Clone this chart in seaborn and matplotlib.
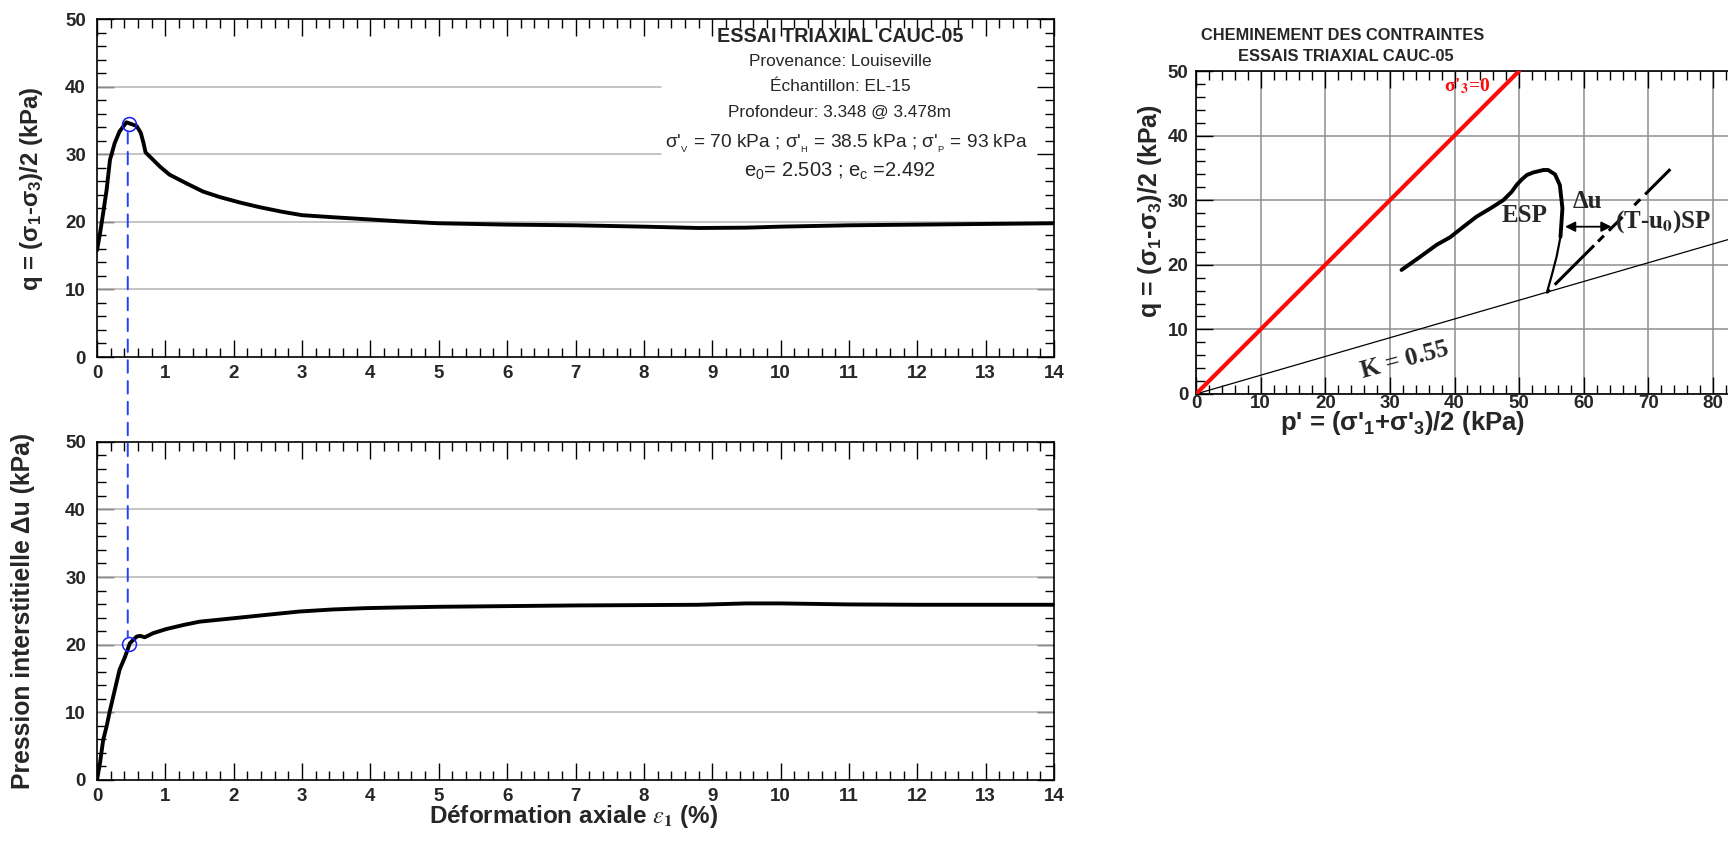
import numpy as np
import pandas as pd
import matplotlib
matplotlib.use("Agg")
import matplotlib.pyplot as plt
import seaborn as sns
from matplotlib.patches import ConnectionPatch
from matplotlib.ticker import MultipleLocator

# ---------------- data ----------------
strain_q = [0, 0.044, 0.09, 0.14, 0.19, 0.26, 0.33, 0.43, 0.5, 0.58, 0.64, 0.68, 0.71,
            0.82, 0.92, 1.06, 1.31, 1.55, 1.79, 2.08, 2.37, 2.71, 3.0, 3.44, 3.93, 4.41,
            5, 6, 7, 8, 8.8, 9.5, 10, 11, 12, 13, 14]
q_dev = [15.8, 18.3, 21.3, 24.7, 29.2, 31.7, 33.4, 34.75, 34.5, 34.2, 33.2, 31.7, 30.3,
         29.2, 28.2, 27.0, 25.7, 24.5, 23.7, 22.9, 22.2, 21.5, 21.0, 20.7, 20.4, 20.1,
         19.8, 19.6, 19.5, 19.3, 19.1, 19.15, 19.3, 19.5, 19.6, 19.7, 19.8]

strain_u = [0, 0.044, 0.09, 0.14, 0.19, 0.26, 0.33, 0.41, 0.48, 0.58, 0.63, 0.70, 0.82,
            1.01, 1.26, 1.5, 1.99, 2.47, 2.96, 3.44, 3.93, 4.41, 5, 6, 7, 8, 8.8, 9.5,
            10, 11, 12, 13, 14]
delta_u = [0, 2.5, 5.9, 7.9, 10.3, 13.3, 16.3, 18.2, 20.2, 21.2, 21.3, 21.1, 21.7,
           22.3, 22.9, 23.4, 23.9, 24.4, 24.9, 25.2, 25.4, 25.5, 25.6, 25.7, 25.8, 25.85,
           25.9, 26.1, 26.1, 25.95, 25.9, 25.9, 25.9]

peak_strain = 0.47
peak_q = 34.45
peak_du = 20.1

# effective stress path (p', q)
p_esp = [54.3, 55.0, 55.8, 56.4, 56.7, 56.7, 56.3, 55.55, 54.5, 53.75, 52.2, 51.2, 50.4,
         49.6, 48.85, 47.55, 45.5, 43.4, 41.4, 39.3, 37.25, 34.7, 31.8]
q_esp = [15.7, 18.2, 21.25, 24.35, 27.45, 30.0, 32.35, 34.0, 34.67, 34.67, 34.3, 33.9,
         33.2, 32.35, 31.3, 30.0, 28.7, 27.45, 25.9, 24.25, 23.1, 21.25, 19.2]
n_sparse = 4  # first samples of the ESP are sparse (drawn thin)

# total stress path minus u0
p_tsp = [54.3, 73.4]
q_tsp = [15.7, 34.8]

# failure line sigma'3 = 0 and K0 line
p_fail = [0, 50]
q_fail = [0, 50]
K0 = 0.55
p_k0 = np.array([0, 90])
q_k0 = p_k0 * (1 - K0) / (1 + K0)

# Δu arrow between ESP and TSP
du_arrow_p = [57.1, 64.3]
du_arrow_q = 25.9

# ---------------- style ----------------
sns.set_theme(style="ticks")
plt.rcParams['font.family'] = ['Liberation Sans', 'DejaVu Sans']
plt.rcParams['mathtext.fontset'] = 'custom'
plt.rcParams['mathtext.rm'] = 'Liberation Sans'
plt.rcParams['mathtext.it'] = 'Liberation Sans:italic'
plt.rcParams['mathtext.bf'] = 'Liberation Sans:bold'
plt.rcParams['lines.scale_dashes'] = False

W, H = 1728, 855
fig = plt.figure(figsize=(W / 100, H / 100), dpi=100)


def fpos(x0, y0, x1, y1):
    return [x0 / W, 1 - y1 / H, (x1 - x0) / W, (y1 - y0) / H]


ax1 = fig.add_axes(fpos(97, 19.3, 1054, 357))
ax2 = fig.add_axes(fpos(97, 441.7, 1054, 780))
ax3 = fig.add_axes(fpos(1196, 71, 1196 + 84 * 6.4625, 394))


def style(ax, xmaj, xmin, ymaj, ymin, top=True, right=True, pad_x=6, pad_y=8, size=13.5):
    ax.xaxis.set_major_locator(MultipleLocator(xmaj))
    ax.xaxis.set_minor_locator(MultipleLocator(xmin))
    ax.yaxis.set_major_locator(MultipleLocator(ymaj))
    ax.yaxis.set_minor_locator(MultipleLocator(ymin))
    ax.tick_params(which='both', direction='in', top=top, right=right,
                   color='black', width=1.0)
    ax.tick_params(which='major', length=12)
    ax.tick_params(which='minor', length=6.5)
    ax.tick_params(axis='x', which='major', pad=pad_x, labelsize=size)
    ax.tick_params(axis='y', which='major', pad=pad_y, labelsize=size)
    for s in ax.spines.values():
        s.set_color('black')
        s.set_linewidth(1.2)
    for lbl in ax.get_xticklabels() + ax.get_yticklabels():
        lbl.set_fontweight('bold')
    ax.set_xlabel('')
    ax.set_ylabel('')
    ax.grid(False)


GRID_L = '#b4b4b4'

# ---- top-left: q vs strain ----
sns.lineplot(x=strain_q, y=q_dev, ax=ax1, color='black', lw=2.8, sort=False, zorder=3)
ax1.set_xlim(0, 14)
ax1.set_ylim(0, 50)
style(ax1, 1, 0.2, 10, 2)
for yv in (10, 20):
    ax1.axhline(yv, color=GRID_L, lw=1.1, zorder=1)
for yv in (30, 40):
    ax1.axhline(yv, xmax=0.589, color=GRID_L, lw=1.1, zorder=1)
ax1.plot([peak_strain], [peak_q], 'o', mfc='none', mec='#1a1aff', ms=10, mew=1.1, zorder=4)

# ---- bottom-left: Δu vs strain ----
sns.lineplot(x=strain_u, y=delta_u, ax=ax2, color='black', lw=2.8, sort=False, zorder=3)
ax2.set_xlim(0, 14)
ax2.set_ylim(0, 50)
style(ax2, 1, 0.2, 10, 2)
for yv in (10, 20, 30, 40):
    ax2.axhline(yv, color=GRID_L, lw=1.1, zorder=1)
ax2.plot([peak_strain], [peak_du], 'o', mfc='none', mec='#1a1aff', ms=10, mew=1.1, zorder=4)

con = ConnectionPatch(xyA=(peak_strain - 0.02, peak_q - 1.0), coordsA=ax1.transData,
                      xyB=(peak_strain - 0.02, peak_du + 1.0), coordsB=ax2.transData,
                      color='#2040ff', lw=1.4, linestyle=(0, (9, 6)), zorder=5)
fig.add_artist(con)

# ---- right: stress path ----
ax3.set_xlim(0, 84)
ax3.set_ylim(0, 50)
style(ax3, 10, 2, 10, 2, top=True, right=False, pad_x=0.5, pad_y=5.5, size=13.5)
ax3.grid(True, which='major', color='#8e8e8e', lw=1.1, zorder=0)
ax3.set_axisbelow(True)
ax3.spines['right'].set_visible(False)

sns.lineplot(x=p_k0, y=q_k0, ax=ax3, color='black', lw=0.9, sort=False, zorder=2)
sns.lineplot(x=p_fail, y=q_fail, ax=ax3, color='#ff0a0a', lw=3.0, sort=False, zorder=3)
sns.lineplot(x=p_esp[:n_sparse], y=q_esp[:n_sparse], ax=ax3, color='black', lw=1.6,
             sort=False, zorder=3)
sns.lineplot(x=p_esp[n_sparse - 1:], y=q_esp[n_sparse - 1:], ax=ax3, color='black', lw=2.8,
             sort=False, zorder=3)
sns.lineplot(x=p_tsp, y=q_tsp, ax=ax3, color='black', lw=2.2, sort=False, zorder=3,
             linestyle=(3, (6, 5, 40, 4, 6, 5, 14, 12)))
ax3.annotate('', xy=(du_arrow_p[1], du_arrow_q), xytext=(du_arrow_p[0], du_arrow_q),
             arrowprops=dict(arrowstyle='<|-|>', color='black', lw=1.3,
                             mutation_scale=15, shrinkA=0, shrinkB=0), zorder=4)

serif = 'Liberation Serif'
ax3.text(50.8, 27.6, 'ESP', family=serif, weight='bold', fontsize=18, ha='center',
         va='center', zorder=5)
ax3.text(60.5, 29.8, 'Δu', family=serif, weight='bold', fontsize=18, ha='center',
         va='center', zorder=5)
ax3.text(64.8, 25.7, r'(T-u$_\mathbf{0}$)SP', family=serif, weight='bold', fontsize=18,
         ha='left', va='baseline', math_fontfamily='stix', zorder=5)
ax3.text(32.3, 5.3, 'K = 0.55', family=serif, weight='bold', fontsize=18, ha='center',
         va='center', rotation=15, rotation_mode='anchor', zorder=5)
ax3.text(38.3, 46.8, r"σ'$_\mathbf{3}$=0", family=serif, weight='bold', fontsize=14,
         ha='left', va='baseline', color='#ff0a0a', math_fontfamily='stix', zorder=5)

# ---------------- texts ----------------
cx = 840 / W
fig.text(cx, 1 - 41.5 / H, 'ESSAI TRIAXIAL CAUC-05', ha='center', va='baseline',
         fontsize=14.2, weight='bold')
fig.text(cx, 1 - 66.5 / H, 'Provenance: Louiseville', ha='center', va='baseline', fontsize=12.4)
fig.text(cx, 1 - 91 / H, 'Échantillon: EL-15', ha='center', va='baseline', fontsize=12.4)
fig.text(cx, 1 - 116.5 / H, 'Profondeur: 3.348 @ 3.478m', ha='center', va='baseline',
         fontsize=12.4)
fig.text(cx + 0.004, 1 - 148 / H,
         r"σ'$_{_\mathrm{V}}$ = 70 kPa ; σ'$_{_\mathrm{H}}$ = 38.5 kPa ; σ'$_{_\mathrm{P}}$ = 93 kPa",
         ha='center', va='baseline', fontsize=13.8)
fig.text(cx, 1 - 176.5 / H, r"e$_\mathrm{0}$= 2.503 ; e$_\mathrm{c}$ =2.492",
         ha='center', va='baseline', fontsize=14.5)

fig.text(32 / W, 1 - 189 / H, r"q = (σ$_\mathbf{1}$-σ$_\mathbf{3}$)/2 (kPa)", rotation=90,
         ha='center', va='center', fontsize=17.2, weight='bold')
fig.text(23 / W, 1 - 611 / H, 'Pression interstitielle Δu (kPa)', rotation=90,
         ha='center', va='center', fontsize=17.8, weight='bold')
fig.text(574 / W, 1 - 823 / H, r"Déformation axiale $\varepsilon_\mathbf{1}$ (%)", ha='center',
         va='baseline', fontsize=17.5, weight='bold', math_fontfamily='stix')

fig.text(1343 / W, 1 - 36 / H, 'CHEMINEMENT DES CONTRAINTES', ha='center', va='center',
         fontsize=11.8, weight='bold')
fig.text(1346 / W, 1 - 56.7 / H, 'ESSAIS TRIAXIAL CAUC-05', ha='center', va='center',
         fontsize=11.8, weight='bold')
fig.text(1150 / W, 1 - 211 / H, r"q = (σ$_\mathbf{1}$-σ$_\mathbf{3}$)/2 (kPa)", rotation=90,
         ha='center', va='center', fontsize=18, weight='bold')
fig.text(1403 / W, 1 - 423 / H, r"p' = (σ'$_\mathbf{1}$+σ'$_\mathbf{3}$)/2 (kPa)",
         ha='center', va='center', fontsize=18.5, weight='bold')

fig.savefig('out.png', dpi=100, facecolor='white')
